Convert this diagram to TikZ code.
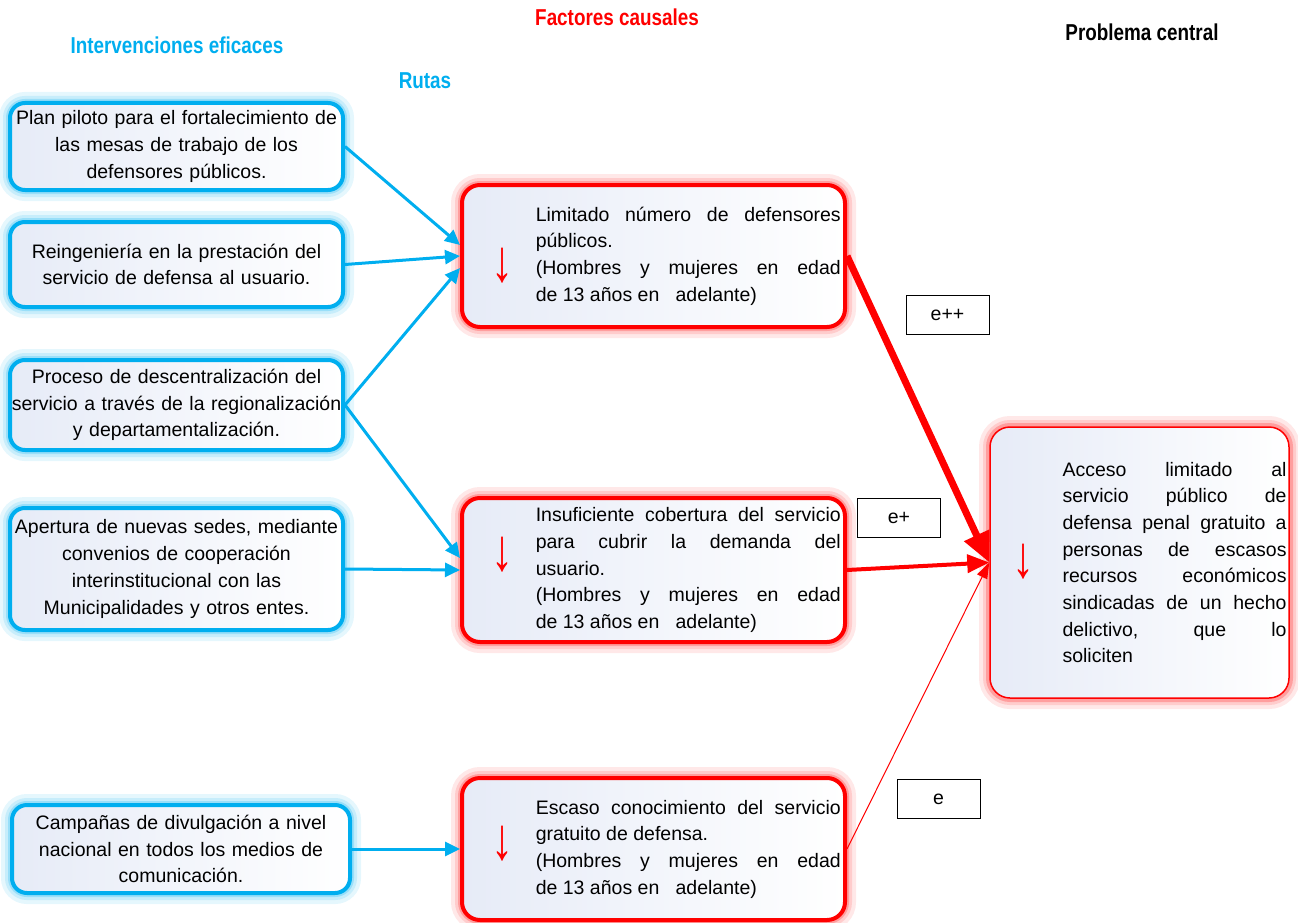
\documentclass[tikz,border=0pt]{standalone}
\usepackage{fontspec}
\setmainfont{Liberation Sans}
\usepackage{graphicx}
\usetikzlibrary{arrows.meta}
\definecolor{rutacyan}{RGB}{0,174,239}
\definecolor{causared}{RGB}{255,0,0}
\definecolor{boxfill}{RGB}{230,235,247}
\newcommand{\angosto}[1]{\scalebox{0.82}[1]{#1}}
\newcommand{\bajada}{\scalebox{1}[1.35]{↓}}

\begin{document}
\begin{tikzpicture}[x=1pt, y=-1pt,
    every node/.style={font=\fontsize{19.5}{26.7}\selectfont, inner sep=2pt},
    titulo/.style={font=\bfseries\fontsize{23}{26}\selectfont},
    intervbox/.style={draw=rutacyan, line width=4pt, rounded corners=15pt,
        inner xsep=0pt, minimum width=333pt, text width=333pt, align=center,
        left color=boxfill, right color=white,
        preaction={draw=rutacyan!10, line width=22pt},
        preaction={draw=rutacyan!22, line width=14pt},
        preaction={draw=rutacyan!40, line width=8pt}},
    causabox/.style={draw=causared, line width=4pt, rounded corners=18pt,
        minimum width=383pt, left color=boxfill, right color=white,
        preaction={draw=causared!9, line width=22pt},
        preaction={draw=causared!20, line width=14pt},
        preaction={draw=causared!38, line width=8pt}},
    causatext/.style={text width=305pt, align=justify, anchor=east},
    flecha/.style={text=causared, font=\fontsize{44}{44}\selectfont},
    etiqueta/.style={draw, line width=1pt, minimum width=83pt, minimum height=39pt},
    ruta/.style={draw=rutacyan, line width=3pt, -{Triangle[length=15pt, width=14pt]}},
    impacto/.style={draw=causared}]
    \useasboundingbox (0,0) rectangle (1298,923);

    % Encabezados
    \node[titulo, text=rutacyan] (hInt) at (177,45) {\angosto{Intervenciones eficaces}};
    \node[titulo, text=causared] (hFac) at (617,17) {\angosto{Factores causales}};
    \node[titulo, text=rutacyan] (hRut) at (425,81) {\angosto{Rutas}};
    \node[titulo] (hPro) at (1142,32) {\angosto{Problema central}};

    % Intervenciones eficaces
    \node[intervbox, minimum height=87pt] (i1) at (176.5,146.5)
        {Plan piloto para el fortalecimiento de\\ las mesas de trabajo de los\\ defensores públicos.};
    \node[intervbox, minimum height=85pt] (i2) at (176.5,264.5)
        {Reingeniería en la prestación del\\ servicio de defensa al usuario.};
    \node[intervbox, minimum height=90pt] (i3) at (176.5,405)
        {Proceso de descentralización del\\ servicio a través de la regionalización\\ y departamentalización.};
    \node[intervbox, minimum height=122pt] (i4) at (176.5,569)
        {Apertura de nuevas sedes, mediante\\ convenios de cooperación\\ interinstitucional con las\\ Municipalidades y otros entes.};
    \node[intervbox, minimum height=88pt, minimum width=338pt] (i5) at (181,849)
        {Campañas de divulgación a nivel\\ nacional en todos los medios de\\ comunicación.};

    % Factores causales
    \node[causabox, minimum height=142pt] (fA) at (653.5,256) {};
    \node[causatext] (tA) at ([xshift=-4pt]fA.east)
        {Limitado número de defensores\linebreak públicos.\par
         (Hombres y mujeres en edad\linebreak de 13 años en \ \ adelante)};
    \node[flecha] (dA) at (502,266) {\bajada};

    \node[causabox, minimum height=144pt] (fB) at (653.5,570) {};
    \node[causatext] (tB) at ([xshift=-4pt]fB.east)
        {Insuficiente cobertura del servicio\linebreak para cubrir la demanda del\linebreak usuario.\par
         (Hombres y mujeres en edad\linebreak de 13 años en \ \ adelante)};
    \node[flecha] (dB) at (502,555) {\bajada};

    \node[causabox, minimum height=142pt] (fC) at (653.5,849) {};
    \node[causatext] (tC) at ([xshift=-4pt]fC.east)
        {Escaso conocimiento del servicio\linebreak gratuito de defensa.\par
         (Hombres y mujeres en edad\linebreak de 13 años en \ \ adelante)};
    \node[flecha] (dC) at (502,844) {\bajada};

    % Problema central
    \node[causabox, line width=1.5pt, rounded corners=20pt, minimum width=299pt,
        minimum height=271pt] (prob) at (1139.5,562.5) {};
    \node[causatext, text width=224pt] (tP) at ([xshift=-1pt]prob.east)
        {Acceso limitado al\linebreak servicio público de\linebreak defensa penal gratuito a\linebreak
         personas de escasos\linebreak recursos económicos\linebreak sindicadas de un hecho\linebreak
         delictivo, que lo\linebreak soliciten};
    \node[flecha] (dP) at (1023,562) {\bajada};

    % Rutas
    \draw[ruta] (i1.east) -- ([yshift=11pt]fA.west);
    \draw[ruta] (i2.east) -- (fA.west);
    \draw[ruta] (i3.east) -- ([yshift=-12pt]fA.west);
    \draw[ruta] (i3.east) -- ([yshift=12pt]fB.west);
    \draw[ruta] (i4.east) -- (fB.west);
    \draw[ruta] (i5.east) -- (fC.west);

    % Efectos
    \draw[impacto, line width=7pt, -{Triangle[length=30pt, width=26pt]}] (fA.east) -- (prob.west);
    \draw[impacto, line width=4pt, -{Triangle[length=22pt, width=18pt]}] (fB.east) -- (prob.west);
    \draw[impacto, line width=1pt, -{Triangle[length=16pt, width=11pt]}] (fC.east) -- (prob.west);

    \node[etiqueta] (eA) at (947.5,315) {e++};
    \node[etiqueta] (eB) at (899,517.5) {e+};
    \node[etiqueta] (eC) at (938.5,799) {e};
\end{tikzpicture}
\end{document}
